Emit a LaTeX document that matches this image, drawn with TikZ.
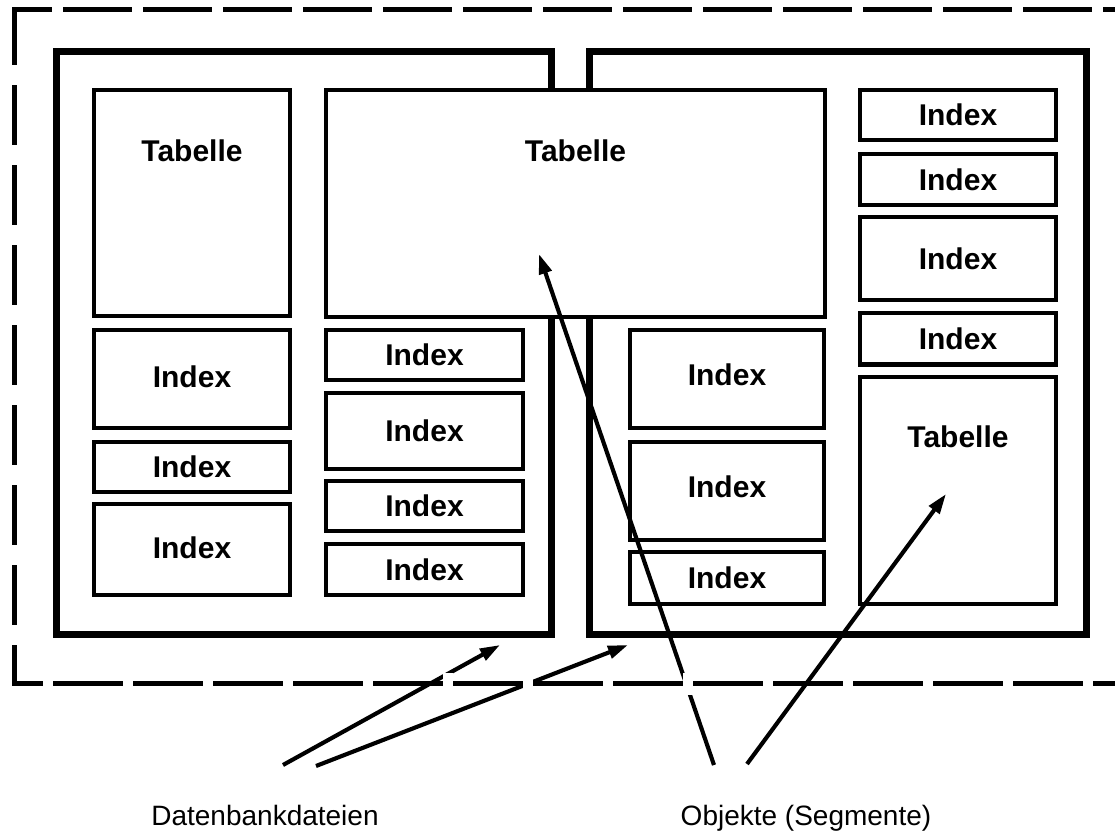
\documentclass[tikz,border=0pt]{standalone}
\usepackage{fontspec}
\setmainfont{Liberation Sans}
\usetikzlibrary{arrows.meta,calc}
\begin{document}
\begin{tikzpicture}[x=0.75pt,y=-0.75pt,
  filebox/.style={draw, line width=5.25pt, inner sep=0pt, outer sep=0pt},
  segbox/.style={draw, line width=3.4pt, fill=white, inner sep=0pt, outer sep=0pt,
    font=\fontsize{22.5pt}{26pt}\selectfont\bfseries},
  seglabel/.style={inner sep=0pt, font=\fontsize{22.5pt}{26pt}\selectfont\bfseries},
  caption/.style={inner sep=0pt, anchor=base, font=\fontsize{21pt}{25pt}\selectfont},
  ptr/.style={line width=3.1pt, -{Triangle[length=15pt,width=9.5pt]}},
  boundary/.style={line width=3.75pt},
]
\useasboundingbox (0,0) rectangle (1115,832);
\clip (0,0) rectangle (1115,832);
\fill[white] (0,0) rectangle (1115,832);

% database boundary: top and left sides
\draw[boundary, dash pattern=on 51.75pt off 8.25pt, dash phase=21.75pt] (12,9.5) -- (1130,9.5);
\draw[boundary, dash pattern=on 45pt off 15pt, dash phase=1.5pt] (14.5,7) -- (14.5,686);

% the two database files
\node[filebox, minimum width=371.6pt, minimum height=437.25pt] (fileA) at (303.75,342.5) {};
\node[filebox, minimum width=372.4pt, minimum height=437.25pt] (fileB) at (838.25,342.5) {};

% file A, first column
\node[segbox, minimum width=147pt, minimum height=169.5pt] (tabA) at (192,203) {};
\node[seglabel] (tabAtxt) at (192,151) {Tabelle};
\node[segbox, minimum width=147pt, minimum height=73.5pt, text depth=4pt] (idxA1) at (192,379) {Index};
\node[segbox, minimum width=147pt, minimum height=37.5pt] (idxA2) at (192,467) {Index};
\node[segbox, minimum width=147pt, minimum height=68.25pt, text depth=3pt] (idxA3) at (192,549.5) {Index};

% file A, second column
\node[segbox, minimum width=147.75pt, minimum height=37.5pt] (idxB1) at (424.5,355) {Index};
\node[segbox, minimum width=147.75pt, minimum height=57pt] (idxB2) at (424.5,431) {Index};
\node[segbox, minimum width=147.75pt, minimum height=37.5pt] (idxB3) at (424.5,506) {Index};
\node[segbox, minimum width=147.75pt, minimum height=38.25pt] (idxB4) at (424.5,569.5) {Index};

% table spanning both files
\node[segbox, minimum width=374.25pt, minimum height=170.25pt] (tabB) at (575.5,203.5) {};
\node[seglabel] (tabBtxt) at (575.5,151) {Tabelle};

% file B, first column
\node[segbox, minimum width=145.5pt, minimum height=73.5pt, text depth=6pt] (idxC1) at (727,379) {Index};
\node[segbox, minimum width=145.5pt, minimum height=73.5pt, text depth=6pt] (idxC2) at (727,491) {Index};
\node[segbox, minimum width=145.5pt, minimum height=39pt] (idxC3) at (727,578) {Index};

% file B, second column
\node[segbox, minimum width=147pt, minimum height=37.5pt] (idxD1) at (958,115) {Index};
\node[segbox, minimum width=147pt, minimum height=38.25pt] (idxD2) at (958,179.5) {Index};
\node[segbox, minimum width=147pt, minimum height=62.25pt] (idxD3) at (958,258.5) {Index};
\node[segbox, minimum width=147pt, minimum height=38.6pt] (idxD4) at (958,338.75) {Index};
\node[segbox, minimum width=147pt, minimum height=170.25pt] (tabC) at (958,490.5) {};
\node[seglabel] (tabCtxt) at (958,437) {Tabelle};

% pointers from the captions
\coordinate (dbTailA) at (283,765);
\coordinate (dbTailB) at (316,766);
\coordinate (dbTipA) at (500,645);
\coordinate (dbTipB) at (628,645);
\coordinate (objTailA) at (714,765);
\coordinate (objTailB) at (747,764);
\coordinate (objTipA) at (539,254);
\coordinate (objTipB) at (946,494);
\draw[ptr] (dbTailA) -- (dbTipA);
\draw[ptr] (dbTailB) -- (dbTipB);
\draw[ptr] (objTailA) -- (objTipA);
\draw[ptr] (objTailB) -- (objTipB);

% bottom side of the boundary, its gaps cut through the pointers
\draw[white, line width=16.5pt, dash pattern=on 7.5pt off 52.5pt, dash phase=36.75pt] (12,683.5) -- (1130,683.5);
\draw[boundary, dash pattern=on 52.5pt off 7.5pt, dash phase=29.25pt] (12,683.5) -- (1130,683.5);

% captions
\node[caption] (dbcap) at (265,825) {Datenbankdateien};
\node[caption] (objcap) at (806,825) {Objekte (Segmente)};
\end{tikzpicture}
\end{document}
